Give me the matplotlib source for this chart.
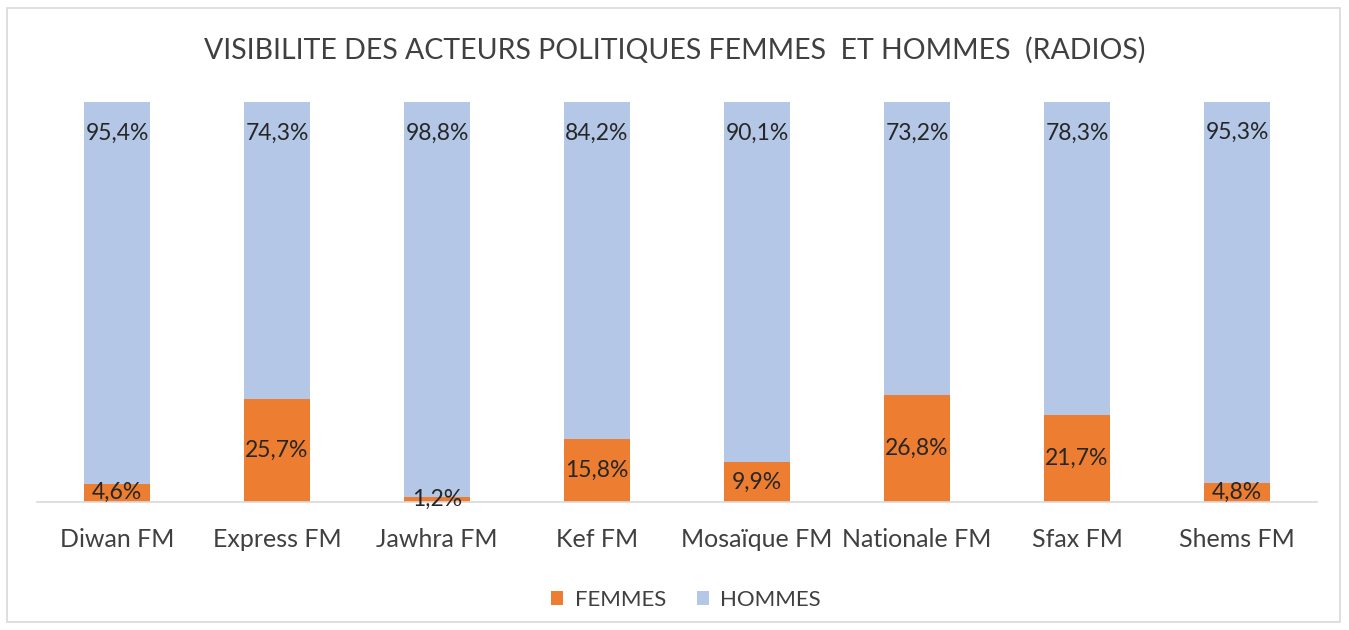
import matplotlib
matplotlib.use("Agg")
import matplotlib.pyplot as plt
from matplotlib.patches import Rectangle

categories = ["Diwan FM", "Express FM", "Jawhra FM", "Kef FM", "Mosaïque FM",
              "Nationale FM", "Sfax FM", "Shems FM"]
femmes = [4.6, 25.7, 1.2, 15.8, 9.9, 26.8, 21.7, 4.8]
hommes = [95.4, 74.3, 98.8, 84.2, 90.1, 73.2, 78.3, 95.3]
series_names = ["FEMMES", "HOMMES"]
title = "VISIBILITE DES ACTEURS POLITIQUES FEMMES  ET HOMMES  (RADIOS)"

ORANGE = "#ED7D31"
BLUE = "#B4C7E7"
TXT = "#262626"
FONT = ["Lato", "DejaVu Sans"]

plt.rcParams["font.family"] = FONT

fig = plt.figure(figsize=(13.49, 6.3), dpi=100)
ax = fig.add_axes([37/1349, 1-502/630, 1280/1349, 400/630])

x = list(range(len(categories)))
w = 0.41
b1 = ax.bar(x, femmes, w, color=ORANGE, label=series_names[0])
b2 = ax.bar(x, hommes, w, bottom=femmes, color=BLUE, label=series_names[1])

for i in x:
    ax.text(i, femmes[i]/2, f"{femmes[i]:.1f}%".replace(".", ","),
            ha="center", va="center", fontsize=16.5, color=TXT)
    top = femmes[i] + hommes[i]
    ax.text(i, top - 7.8, f"{hommes[i]:.1f}%".replace(".", ","),
            ha="center", va="center", fontsize=16.5, color=TXT)

ax.set_xlim(-0.5, len(categories)-0.5)
ax.set_ylim(0, 100)
ax.set_yticks([])
ax.set_xticks(x)
ax.set_xticklabels(categories, fontsize=18, color="#404040")
ax.tick_params(axis="x", length=0, pad=19)
for s in ["top", "right", "left"]:
    ax.spines[s].set_visible(False)
ax.spines["bottom"].set_color("#D9D9D9")
ax.spines["bottom"].set_linewidth(1.2)

fig.text(0.5, 1-50/630, title, ha="center", va="center", fontsize=20.5, color="#404040")

leg = fig.legend(handles=[b1, b2], loc="center", bbox_to_anchor=(686/1349, 1-600/630),
                 ncol=2, frameon=False, fontsize=16, handlelength=0.55, handleheight=0.55,
                 columnspacing=1.4, handletextpad=0.5)
for t in leg.get_texts():
    t.set_color("#404040")

fig.patches.append(Rectangle((7/1349, 8/630), 1333/1349, 614/630, transform=fig.transFigure,
                             fill=False, edgecolor="#D9D9D9", linewidth=1.2))

fig.savefig("out.png", dpi=100)
